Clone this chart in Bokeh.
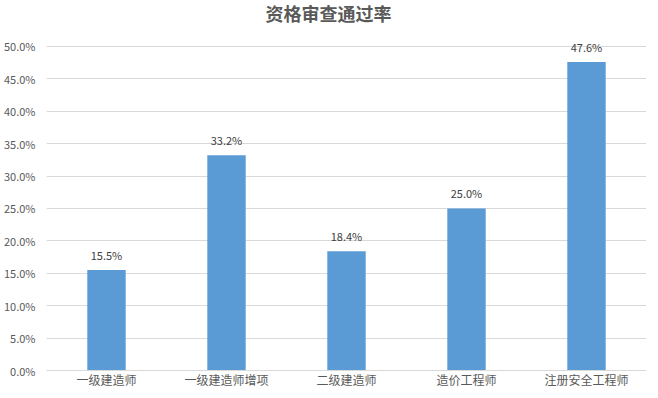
from bokeh.plotting import figure
from bokeh.models import ColumnDataSource, FixedTicker, NumeralTickFormatter, LabelSet, Title
from bokeh.core.properties import value
from bokeh.embed import file_html
from bokeh.resources import INLINE

categories = ["一级建造师", "一级建造师增项", "二级建造师", "造价工程师", "注册安全工程师"]
rates_pct = [15.5, 33.2, 18.4, 25.0, 47.6]
y_ticks_pct = [0, 5, 10, 15, 20, 25, 30, 35, 40, 45, 50]

fracs = [v / 100 for v in rates_pct]
src = ColumnDataSource(dict(
    cat=categories,
    val=fracs,
    lab=[f"{v:.1f}%" for v in rates_pct],
))

FONT = "Noto Sans CJK SC"
XFONT = "Liberation Sans, Noto Sans CJK SC"

p = figure(x_range=categories, y_range=(0, 0.537), width=646, height=390,
           output_backend="svg", toolbar_location=None,
           min_border_left=38, min_border_right=0, min_border_top=0, min_border_bottom=0)

t = Title(text="资格审查通过率", align="left", text_font=FONT, text_font_size="18px",
          text_font_style="bold", text_color="#595959", standoff=-6, offset=219)
p.add_layout(t, "above")

p.vbar(x="cat", top="val", width=0.32, source=src, color="#5B9BD5", line_color=None)

labels = LabelSet(x="cat", y="val", text="lab", source=src, text_align="center",
                  text_baseline="bottom", y_offset=7, text_font=value(FONT),
                  text_font_size=value("11px"), text_color=value("#404040"))
p.add_layout(labels)

p.outline_line_color = None
p.background_fill_color = "white"
p.border_fill_color = "white"

p.yaxis.ticker = FixedTicker(ticks=[v / 100 for v in y_ticks_pct])
p.yaxis.formatter = NumeralTickFormatter(format="0.0%")
p.yaxis.axis_line_color = None
p.yaxis.major_tick_line_color = None
p.yaxis.minor_tick_line_color = None
p.yaxis.major_label_text_font = FONT
p.yaxis.major_label_text_font_size = "11px"
p.yaxis.major_label_text_color = "#595959"
p.yaxis.major_label_standoff = 5

p.xaxis.axis_line_color = "#d9d9d9"
p.xaxis.major_tick_line_color = None
p.xaxis.minor_tick_line_color = None
p.xaxis.major_label_text_font = XFONT
p.xaxis.major_label_text_font_size = "12px"
p.xaxis.major_label_text_color = "#595959"
p.xaxis.major_label_standoff = -3

p.xgrid.grid_line_color = None
p.ygrid.grid_line_color = "#d9d9d9"
p.x_range.range_padding = 0

open("out.html", "w").write(file_html(p, INLINE))
